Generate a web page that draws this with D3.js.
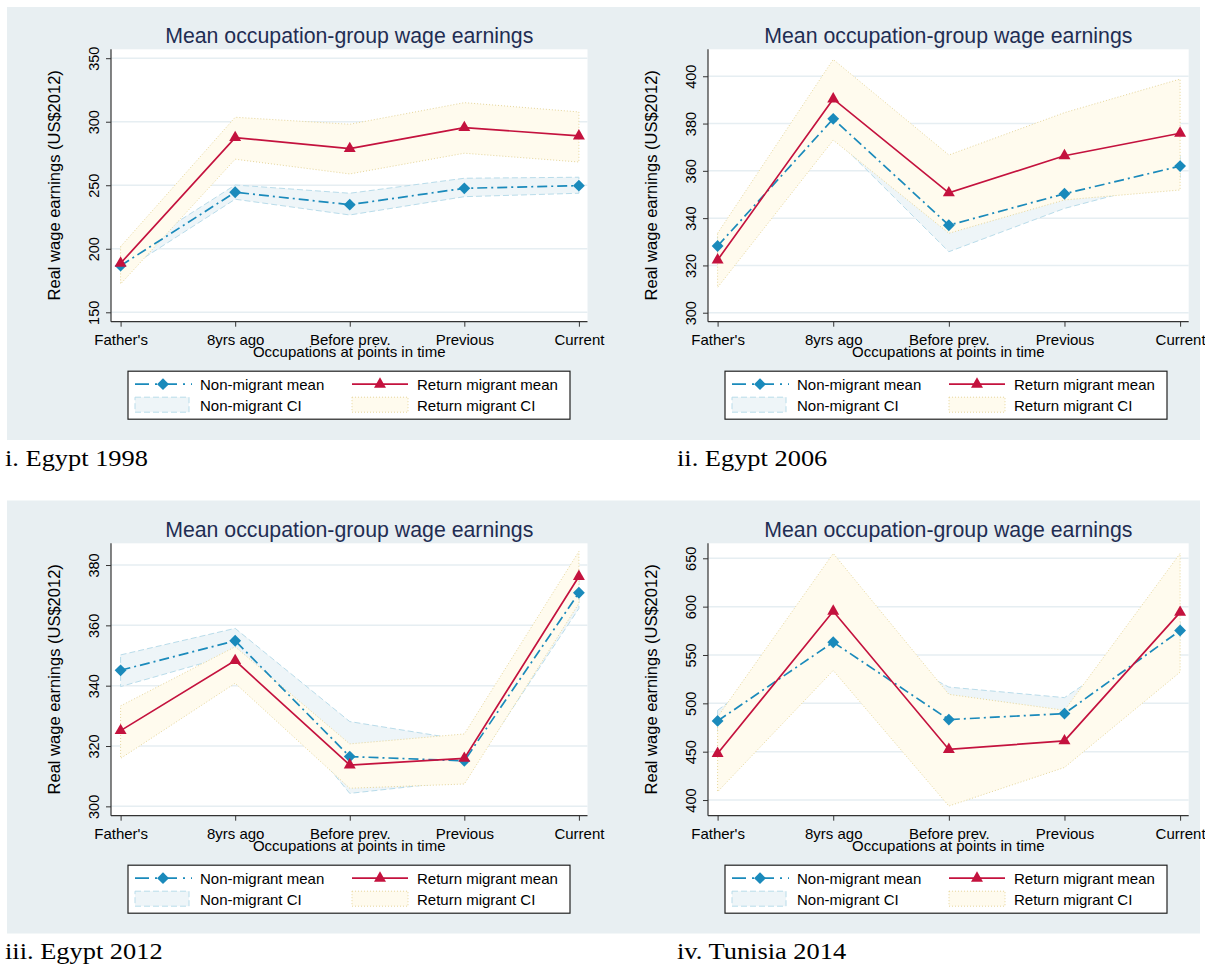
<!DOCTYPE html>
<html>
<head>
<meta charset="utf-8">
<script src="https://cdn.jsdelivr.net/npm/d3@7"></script>
<style>
body { margin: 0; background: #fff; }
text { font-family: "Liberation Sans", Arial, sans-serif; }
</style>
</head>
<body>
<svg id="chart" width="1205" height="964"></svg>
<script>
var categories = ["Father's", "8yrs ago", "Before prev.", "Previous", "Current"];

// Egypt 1998
var nonMean1998 = [186.7, 244.5, 234.7, 247.6, 249.7];
var retMean1998 = [188.6, 287.5, 278.8, 295.4, 288.8];
var nonLo1998 = [181, 239, 226.6, 241, 243.7];
var nonHi1998 = [192.5, 250.2, 243.7, 255.5, 256.3];
var retLo1998 = [172.3, 270.5, 258.9, 275.2, 268.3];
var retHi1998 = [201.7, 303.5, 298, 315, 307.7];
var ticks1998 = [150, 200, 250, 300, 350];
var extent1998 = [142.6, 357];

// Egypt 2006
var nonMean2006 = [328.2, 382.0, 337.0, 350.3, 362.0];
var retMean2006 = [322.3, 390.4, 350.7, 366.4, 375.9];
var nonLo2006 = [324, 374.5, 325.8, 344.1, 357];
var nonHi2006 = [332, 389.5, 348, 356.5, 367];
var retLo2006 = [310.7, 373.0, 333.6, 347.7, 351.9];
var retHi2006 = [333.6, 407.1, 366.7, 384.6, 398.8];
var ticks2006 = [300, 320, 340, 360, 380, 400];
var extent2006 = [296.2, 411.4];

// Egypt 2012
var nonMean2012 = [345.1, 354.9, 316.5, 315.1, 370.8];
var retMean2012 = [325.1, 348.3, 313.7, 315.9, 376.2];
var nonLo2012 = [339.7, 350.5, 304.3, 308.5, 365.6];
var nonHi2012 = [350.2, 359, 328.1, 322, 376.5];
var retLo2012 = [315.9, 340.8, 306, 307.4, 367.3];
var retHi2012 = [333.3, 352.9, 320.7, 324, 384.5];
var ticks2012 = [300, 320, 340, 360, 380];
var extent2012 = [296.9, 387.2];

// Tunisia 2014
var nonMean2014 = [481.8, 563.2, 483.2, 489.4, 575.3];
var retMean2014 = [448.1, 595.2, 452.3, 461.2, 594.1];
var nonLo2014 = [471, 547, 474, 476, 565];
var nonHi2014 = [492.8, 580, 516.8, 505.9, 586];
var retLo2014 = [408.6, 534, 393.8, 433.7, 532.3];
var retHi2014 = [485.9, 655, 509.3, 492.8, 655];
var ticks2014 = [400, 450, 500, 550, 600, 650];
var extent2014 = [383.8, 665.5];

var captions = ["i. Egypt 1998", "ii. Egypt 2006", "iii. Egypt 2012", "iv. Tunisia 2014"];

var BLUE = "#1a8abb",
    RED = "#c4123e",
    BG = "#e8eff2";

// plot frame for each column / row
var COL_LEFT = [111, 708],
    COL_RIGHT = [587.5, 1188.7],
    ROW_TOP = [49.3, 543.3],
    PLOT_H = 272.4;

var svg = d3.select("#chart");

function zip(lo, hi) {
    return lo.map(function (d, i) { return [d, hi[i]]; });
}

function drawPanel(p, col, row) {
    var left = COL_LEFT[col], right = COL_RIGHT[col];
    var top = ROW_TOP[row], bottom = top + PLOT_H;
    var x = d3.scalePoint().domain(categories).range([left + 9.6, right - 8.6]);
    var y = d3.scaleLinear().domain(p.extent).range([bottom, top]);
    var g = svg.append("g");

    g.append("rect")
        .attr("x", left).attr("y", top)
        .attr("width", right - left).attr("height", bottom - top)
        .attr("fill", "#fff");

    g.append("g").selectAll("line")
        .data(p.ticks)
        .enter().append("line")
        .attr("x1", left).attr("x2", right)
        .attr("y1", function (d) { return y(d); })
        .attr("y2", function (d) { return y(d); })
        .attr("stroke", "#e6eef2")
        .attr("stroke-width", 1.5);

    var area = d3.area()
        .x(function (d, i) { return x(categories[i]); })
        .y0(function (d) { return y(d[0]); })
        .y1(function (d) { return y(d[1]); });

    g.append("path")
        .datum(zip(p.nonLo, p.nonHi))
        .attr("d", area)
        .attr("fill", "#eef5f8")
        .attr("stroke", "#b9dcea")
        .attr("stroke-width", 1)
        .attr("stroke-dasharray", "6,3");

    g.append("path")
        .datum(zip(p.retLo, p.retHi))
        .attr("d", area)
        .attr("fill", "#fffbee")
        .attr("stroke", "#e6d69a")
        .attr("stroke-width", 1)
        .attr("stroke-dasharray", "1,2");

    var line = d3.line()
        .x(function (d, i) { return x(categories[i]); })
        .y(function (d) { return y(d); });

    g.append("path")
        .datum(p.non)
        .attr("d", line)
        .attr("fill", "none")
        .attr("stroke", BLUE)
        .attr("stroke-width", 1.7)
        .attr("stroke-dasharray", "10,4,2,4");

    g.append("path")
        .datum(p.ret)
        .attr("d", line)
        .attr("fill", "none")
        .attr("stroke", RED)
        .attr("stroke-width", 1.7);

    var diamond = d3.symbol().type(d3.symbolSquare).size(70);
    var triangle = d3.symbol().type(d3.symbolTriangle).size(62);

    g.append("g").selectAll("path")
        .data(p.non)
        .enter().append("path")
        .attr("d", diamond)
        .attr("transform", function (d, i) {
            return "translate(" + x(categories[i]) + "," + y(d) + ") rotate(45)";
        })
        .attr("fill", BLUE);

    g.append("g").selectAll("path")
        .data(p.ret)
        .enter().append("path")
        .attr("d", triangle)
        .attr("transform", function (d, i) {
            return "translate(" + x(categories[i]) + "," + y(d) + ")";
        })
        .attr("fill", RED);

    // y axis
    var yAxis = g.append("g")
        .attr("transform", "translate(" + left + ",0)")
        .call(d3.axisLeft(y).tickValues(p.ticks).tickSize(5).tickSizeOuter(0));
    yAxis.select(".domain").remove();
    yAxis.selectAll(".tick line").attr("stroke", "#333");
    yAxis.selectAll(".tick text")
        .attr("x", 0).attr("y", 0).attr("dy", 0)
        .attr("text-anchor", "middle")
        .attr("transform", "translate(-12.5,0) rotate(-90)")
        .attr("fill", "#000")
        .style("font-size", "14.5px");
    g.append("line")
        .attr("x1", left).attr("x2", left)
        .attr("y1", top).attr("y2", bottom)
        .attr("stroke", "#333").attr("stroke-width", 1.2);

    // x axis
    var xAxis = g.append("g")
        .attr("transform", "translate(0," + bottom + ")")
        .call(d3.axisBottom(x).tickSize(5).tickSizeOuter(0));
    xAxis.select(".domain").remove();
    xAxis.selectAll(".tick line").attr("stroke", "#333");
    xAxis.selectAll(".tick text")
        .attr("y", 23.5).attr("dy", 0)
        .attr("fill", "#000")
        .style("font-size", "15px");
    g.append("line")
        .attr("x1", left).attr("x2", right)
        .attr("y1", bottom).attr("y2", bottom)
        .attr("stroke", "#333").attr("stroke-width", 1.2);

    var cx = (left + right) / 2;
    g.append("text")
        .attr("x", cx).attr("y", top - 6.8)
        .attr("text-anchor", "middle")
        .attr("fill", "#1f2d52")
        .style("font-size", "21.3px")
        .text("Mean occupation-group wage earnings");

    g.append("text")
        .attr("x", cx).attr("y", bottom + 35)
        .attr("text-anchor", "middle")
        .style("font-size", "15px")
        .text("Occupations at points in time");

    g.append("text")
        .attr("transform", "translate(" + (left - 51.5) + "," + (top + 136) + ") rotate(-90)")
        .attr("text-anchor", "middle")
        .style("font-size", "16.5px")
        .text("Real wage earnings (US$2012)");

    drawLegend(g, left + 17, bottom + 49.5);

    svg.append("text")
        .attr("transform", "translate(" + (col == 0 ? 5 : 677) + "," + (466 + row * 493) + ") scale(1.1,1)")
        .style("font-family", "'Liberation Serif', 'Times New Roman', serif")
        .style("font-size", "24px")
        .text(p.caption);
}

function drawLegend(g, lx, ly) {
    var lg = g.append("g").attr("transform", "translate(" + lx + "," + ly + ")");
    lg.append("rect")
        .attr("x", 0).attr("y", 0)
        .attr("width", 442).attr("height", 48)
        .attr("fill", "#fff")
        .attr("stroke", "#222").attr("stroke-width", 1.2);

    // row 1: mean lines
    lg.append("line")
        .attr("x1", 7).attr("x2", 64).attr("y1", 13).attr("y2", 13)
        .attr("stroke", BLUE).attr("stroke-width", 1.7)
        .attr("stroke-dasharray", "14,6,2,6");
    lg.append("path")
        .attr("d", d3.symbol().type(d3.symbolSquare).size(70))
        .attr("transform", "translate(35,13) rotate(45)")
        .attr("fill", BLUE);
    lg.append("line")
        .attr("x1", 224).attr("x2", 280).attr("y1", 13).attr("y2", 13)
        .attr("stroke", RED).attr("stroke-width", 1.7);
    lg.append("path")
        .attr("d", d3.symbol().type(d3.symbolTriangle).size(62))
        .attr("transform", "translate(252,13)")
        .attr("fill", RED);

    // row 2: CI boxes
    lg.append("rect")
        .attr("x", 7).attr("y", 26).attr("width", 54).attr("height", 15)
        .attr("fill", "#eef5f8").attr("stroke", "#b9dcea")
        .attr("stroke-dasharray", "6,3");
    lg.append("rect")
        .attr("x", 224).attr("y", 26).attr("width", 56).attr("height", 15)
        .attr("fill", "#fffbee").attr("stroke", "#e6d69a")
        .attr("stroke-dasharray", "1,2");

    var labels = [
        [72, 18.5, "Non-migrant mean"],
        [289, 18.5, "Return migrant mean"],
        [72, 40, "Non-migrant CI"],
        [289, 40, "Return migrant CI"]
    ];
    lg.selectAll("text.leg")
        .data(labels)
        .enter().append("text")
        .attr("class", "leg")
        .attr("x", function (d) { return d[0]; })
        .attr("y", function (d) { return d[1]; })
        .style("font-size", "15px")
        .text(function (d) { return d[2]; });
}

// graph region backgrounds, one band per row
[0, 1].forEach(function (row) {
    svg.append("rect")
        .attr("x", 7).attr("y", 7 + row * 493.5)
        .attr("width", 1193).attr("height", 433)
        .attr("fill", BG);
});

var panels = [
    {caption: captions[0], non: nonMean1998, ret: retMean1998, nonLo: nonLo1998, nonHi: nonHi1998,
     retLo: retLo1998, retHi: retHi1998, ticks: ticks1998, extent: extent1998},
    {caption: captions[1], non: nonMean2006, ret: retMean2006, nonLo: nonLo2006, nonHi: nonHi2006,
     retLo: retLo2006, retHi: retHi2006, ticks: ticks2006, extent: extent2006},
    {caption: captions[2], non: nonMean2012, ret: retMean2012, nonLo: nonLo2012, nonHi: nonHi2012,
     retLo: retLo2012, retHi: retHi2012, ticks: ticks2012, extent: extent2012},
    {caption: captions[3], non: nonMean2014, ret: retMean2014, nonLo: nonLo2014, nonHi: nonHi2014,
     retLo: retLo2014, retHi: retHi2014, ticks: ticks2014, extent: extent2014}
];

panels.forEach(function (p, i) {
    drawPanel(p, i % 2, Math.floor(i / 2));
});
</script>
</body>
</html>
